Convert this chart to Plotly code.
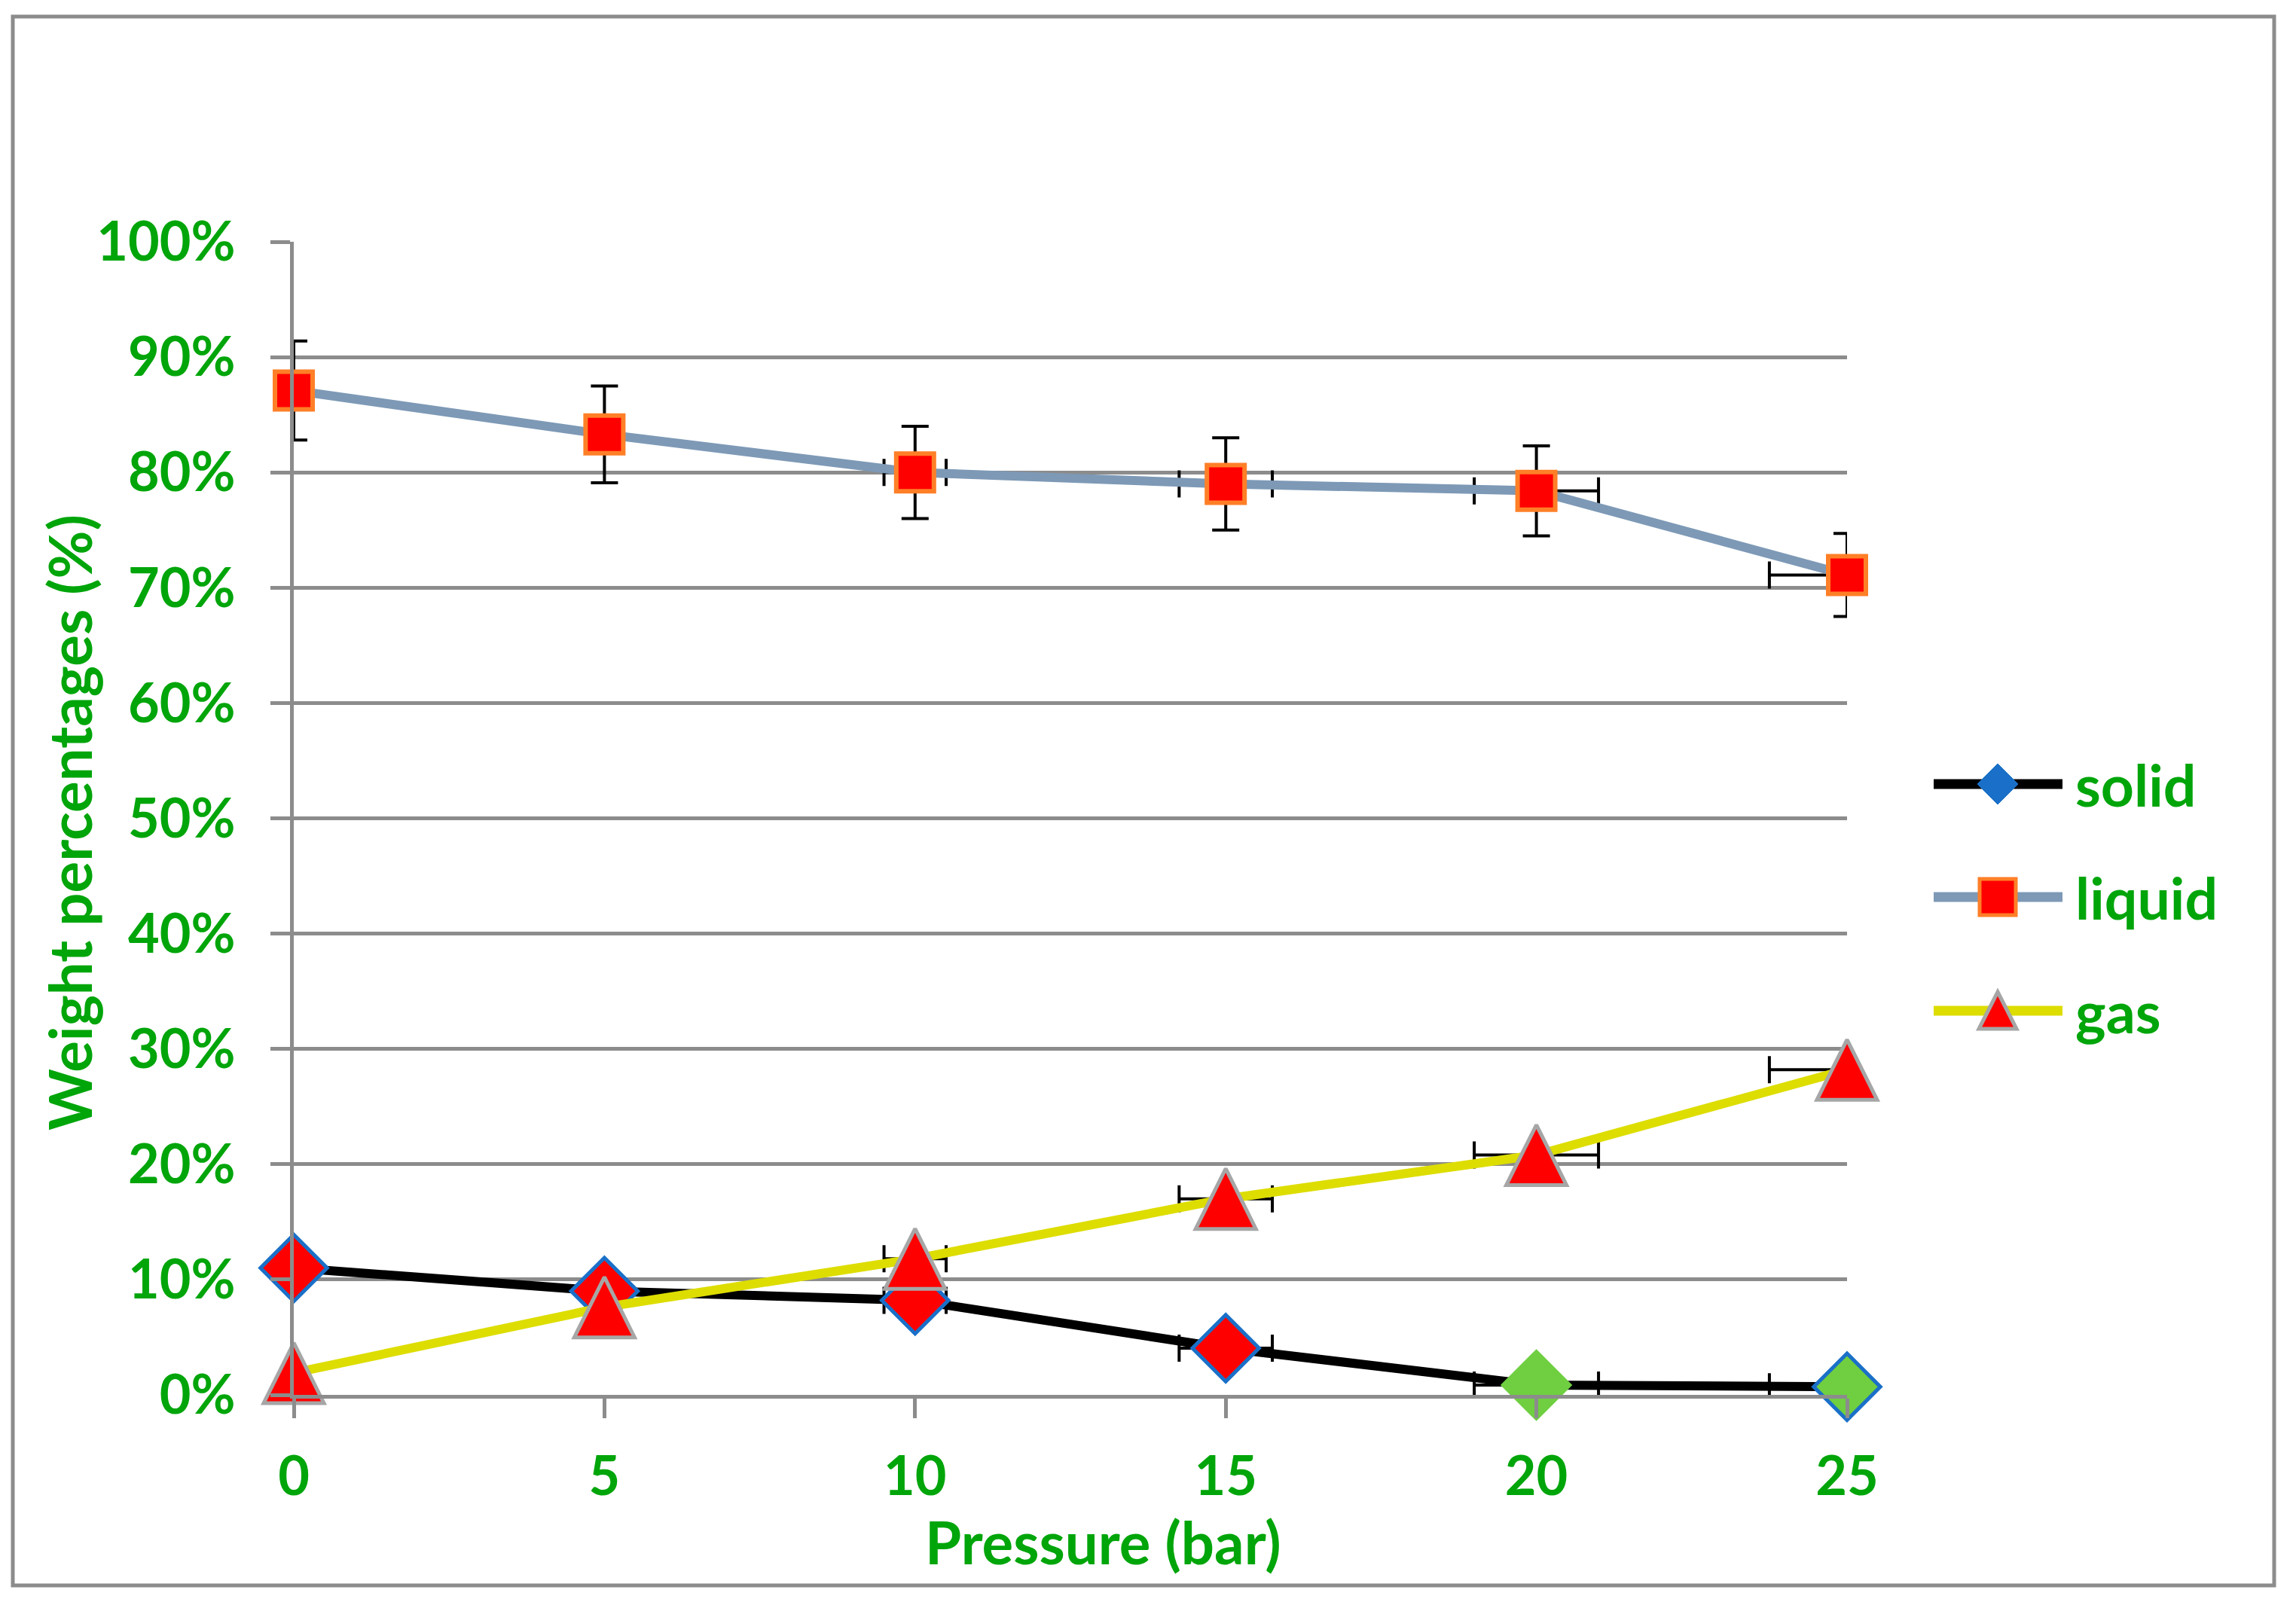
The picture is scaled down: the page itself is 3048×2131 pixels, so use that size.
import plotly.graph_objects as go

# ---------------- data ----------------
pressure = [0, 5, 10, 15, 20, 25]
pressure_err = [0, 0.25, 0.5, 0.75, 1.0, 1.25]
solid = [11.0, 9.0, 8.2, 4.05, 0.85, 0.7]
liquid = [87.1, 83.3, 80.0, 79.0, 78.4, 71.1]
liquid_err = [4.3, 4.2, 4.0, 4.0, 3.9, 3.6]
gas = [1.9, 7.6, 11.8, 17.0, 20.8, 28.2]
y_ticks = [0, 10, 20, 30, 40, 50, 60, 70, 80, 90, 100]
x_ticks = [0, 5, 10, 15, 20, 25]
series_names = ["solid", "liquid", "gas"]

# ---------------- style ----------------
GREEN = "#00A50A"
GRAY = "#8C8C8C"
FONT = "Lato"
PAGE_OFF = 8                      # default body margin of the html page
W, H = 3028, 2112                 # figure size (fits the window with body margin)
PL, PR, PT, PB = 390, 2452, 321, 1852   # plot area in page pixels
ML = PL - PAGE_OFF
MT = PT - PAGE_OFF
MR = PAGE_OFF + W - PR
MB = PAGE_OFF + H - PB
PW = PR - PL
PH = PB - PT


def px_x(p):
    return (p - PL) / PW


def px_y(p):
    return (PB - p) / PH


solid_fill = ["#FF0000", "#FF0000", "#FF0000", "#FF0000", "#6FCF40", "#6FCF40"]
solid_edge = ["#1A70C8", "#1A70C8", "#1A70C8", "#1A70C8", "#6FCF40", "#1A70C8"]

fig = go.Figure()

err_style = dict(color="black", thickness=4, width=18)

# error bars (clipped to the plot area, like the original)
for yvals, yerr in [(solid, None), (liquid, liquid_err), (gas, None)]:
    kw = {}
    if yerr is not None:
        kw["error_y"] = dict(type="data", array=yerr, visible=True, **err_style)
    fig.add_trace(go.Scatter(
        x=pressure, y=yvals, mode="markers",
        marker=dict(size=2, color="rgba(0,0,0,0)"),
        error_x=dict(type="data", array=pressure_err, visible=True, **err_style),
        cliponaxis=True, showlegend=False, hoverinfo="skip", **kw))

fig.add_trace(go.Scatter(
    x=pressure, y=solid, name=series_names[0], mode="lines+markers",
    line=dict(color="black", width=12),
    marker=dict(symbol="diamond", size=68, color=solid_fill,
                line=dict(color=solid_edge, width=5)),
    cliponaxis=False, showlegend=False))

fig.add_trace(go.Scatter(
    x=pressure, y=liquid, name=series_names[1], mode="lines+markers",
    line=dict(color="#7D99B6", width=12),
    marker=dict(symbol="square", size=50, color="#FF0000",
                line=dict(color="#FF7F27", width=6)),
    cliponaxis=False, showlegend=False))

fig.add_trace(go.Scatter(
    x=pressure, y=gas, name=series_names[2], mode="lines+markers",
    line=dict(color="#DDDD00", width=12),
    marker=dict(symbol="arrow-down", angle=180, standoff=40, size=80,
                color="#FF0000", line=dict(color="#A6A6A6", width=5)),
    cliponaxis=False, showlegend=False))

# ---------------- legend (drawn manually to match scale) ----------------
shapes = []
annotations = []
leg_x0, leg_x1, leg_xm, leg_tx = px_x(2567), px_x(2738), px_x(2652), px_x(2753)
leg_rows = [px_y(1041), px_y(1191), px_y(1342)]
leg_line_colors = ["black", "#7D99B6", "#DDDD00"]
for yy, lc, name in zip(leg_rows, leg_line_colors, series_names):
    shapes.append(dict(type="line", xref="paper", yref="paper", x0=leg_x0, x1=leg_x1,
                       y0=yy, y1=yy, line=dict(color=lc, width=13), layer="above"))
    annotations.append(dict(xref="paper", yref="paper", x=leg_tx, y=yy, text=name,
                            showarrow=False, xanchor="left", yanchor="middle",
                            font=dict(family=FONT, size=77, color=GREEN, weight="bold")))

glyphs = [
    ("M0,27L27,0L0,-27L-27,0Z", "#1A70C8", "#1A70C8", 1),
    ("M-24,-24H24V24H-24Z", "#FF0000", "#FF7F27", 5),
    ("M0,25L25,-24L-25,-24Z", "#FF0000", "#A6A6A6", 5),
]
for yy, (path, fc, lc, lw) in zip(leg_rows, glyphs):
    shapes.append(dict(type="path", xref="paper", yref="paper", xsizemode="pixel",
                       ysizemode="pixel", xanchor=leg_xm, yanchor=yy, path=path,
                       fillcolor=fc, line=dict(color=lc, width=lw), layer="above"))

# outer chart border
shapes.append(dict(type="rect", xref="paper", yref="paper",
                   x0=px_x(17), x1=px_x(3019), y0=px_y(2105), y1=px_y(22),
                   line=dict(color=GRAY, width=5), layer="below"))

# axis titles
annotations.append(dict(xref="paper", yref="paper", x=px_x(1464), y=px_y(2047),
                        text="Pressure (bar)", showarrow=False,
                        xanchor="center", yanchor="middle",
                        font=dict(family=FONT, size=78, color=GREEN, weight="bold")))
annotations.append(dict(xref="paper", yref="paper", x=px_x(92), y=px_y(1092),
                        text="Weight percentages (%)", showarrow=False, textangle=-90,
                        xanchor="center", yanchor="middle",
                        font=dict(family=FONT, size=78, color=GREEN, weight="bold")))

tickfont = dict(family=FONT, size=72, color=GREEN, weight="bold")

fig.update_layout(
    width=W, height=H,
    margin=dict(l=ML, r=MR, t=MT, b=MB, pad=0),
    paper_bgcolor="white", plot_bgcolor="white",
    showlegend=False,
    shapes=shapes, annotations=annotations,
    xaxis=dict(range=[0, 25], tickmode="array", tickvals=x_ticks,
               ticktext=[str(v) for v in x_ticks],
               showgrid=False, zeroline=False, showline=True, linecolor=GRAY,
               linewidth=5, ticks="outside", ticklen=26, tickwidth=5, tickcolor=GRAY,
               tickfont=tickfont, ticklabelstandoff=16),
    yaxis=dict(range=[0, 100], tickmode="array", tickvals=y_ticks,
               ticktext=[f"{v}%" for v in y_ticks],
               showgrid=True, gridcolor=GRAY, gridwidth=5, zeroline=False,
               showline=True, linecolor=GRAY, linewidth=5, ticks="outside",
               ticklen=26, tickwidth=5, tickcolor=GRAY,
               tickfont=tickfont, ticklabelstandoff=32),
)

fig.write_html("out.html", config={"displayModeBar": False})
